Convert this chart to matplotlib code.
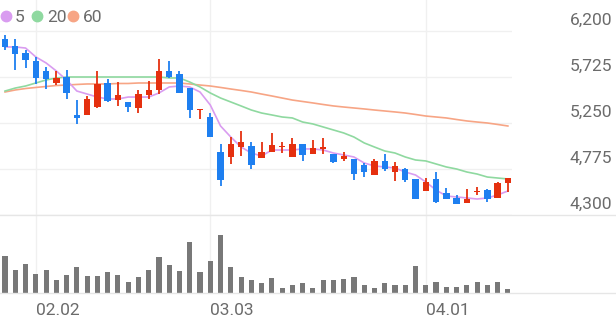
import matplotlib
matplotlib.use("Agg")
import matplotlib.pyplot as plt
from matplotlib.lines import Line2D

# daily candles, oldest first
opens = [6115, 6040, 5970, 5890, 5785, 5665, 5725, 5335, 5335, 5415,
         5665, 5490, 5465, 5405, 5540, 5590, 5785, 5755, 5610, 5385,
         5310, 4950, 4900, 5000, 5015, 4890, 4950, 5000, 4900, 5035,
         4930, 4985, 4930, 4880, 4880, 4815, 4715, 4860, 4745, 4775,
         4670, 4550, 4670, 4525, 4475, 4425, 4540, 4560, 4475, 4630]
highs = [6160, 6115, 6005, 5930, 5830, 5785, 5795, 5485, 5530, 5785,
         5705, 5675, 5465, 5590, 5685, 5910, 5890, 5785, 5610, 5395,
         5355, 5035, 5105, 5165, 5055, 5055, 5145, 5055, 5095, 5035,
         5075, 5095, 4930, 4950, 4880, 4835, 4880, 4930, 4845, 4785,
         4670, 4680, 4745, 4580, 4505, 4570, 4590, 4570, 4640, 4680]
lows = [6005, 5800, 5820, 5655, 5600, 5640, 5500, 5240, 5330, 5410,
        5465, 5425, 5365, 5355, 5500, 5550, 5715, 5560, 5300, 5290,
        5105, 4600, 4825, 4910, 4775, 4890, 4950, 4940, 4900, 4860,
        4930, 4930, 4835, 4860, 4660, 4690, 4710, 4755, 4650, 4640,
        4465, 4545, 4425, 4465, 4415, 4425, 4505, 4435, 4475, 4540]
closes = [6035, 5960, 5900, 5715, 5705, 5715, 5560, 5300, 5500, 5655,
          5475, 5540, 5415, 5550, 5590, 5785, 5725, 5560, 5385, 5395,
          5105, 4660, 5035, 5055, 4815, 4950, 5025, 5015, 5035, 4920,
          4990, 4995, 4845, 4905, 4725, 4745, 4860, 4775, 4805, 4660,
          4465, 4640, 4435, 4465, 4415, 4465, 4550, 4465, 4630, 4680]

# moving averages
ma5 = [6035, 6035, 6024, 5932, 5870, 5787, 5694, 5580, 5549, 5518,
       5498, 5498, 5518, 5518, 5518, 5560, 5622, 5632, 5622, 5570,
       5436, 5219, 5105, 5002, 4940, 4909, 4971, 4971, 4971, 4982,
       4982, 4971, 4940, 4920, 4899, 4837, 4806, 4796, 4785, 4744,
       4713, 4641, 4558, 4496, 4486, 4476, 4465, 4476, 4507, 4548]
ma20 = [5580, 5611, 5632, 5663, 5694, 5715, 5725, 5725, 5725, 5725,
        5725, 5725, 5725, 5725, 5725, 5725, 5715, 5715, 5673, 5622,
        5560, 5508, 5467, 5426, 5384, 5353, 5333, 5312, 5302, 5260,
        5240, 5209, 5178, 5147, 5105, 5044, 5002, 4961, 4940, 4899,
        4868, 4858, 4827, 4796, 4775, 4744, 4723, 4692, 4682, 4672]
ma60 = [5570, 5591, 5606, 5617, 5627, 5637, 5642, 5648, 5653, 5653,
        5653, 5658, 5658, 5663, 5663, 5663, 5663, 5663, 5653, 5642,
        5632, 5617, 5601, 5586, 5570, 5549, 5529, 5508, 5487, 5472,
        5457, 5441, 5426, 5415, 5405, 5395, 5384, 5374, 5364, 5353,
        5338, 5322, 5312, 5302, 5286, 5271, 5260, 5250, 5235, 5219]

# volume (thousand shares)
volume = [373, 233, 290, 193, 233, 126, 183, 256, 166, 166,
          210, 176, 110, 160, 233, 360, 283, 223, 506, 210,
          323, 576, 260, 160, 126, 100, 150, 50, 83, 100,
          50, 126, 133, 143, 160, 76, 50, 100, 76, 76,
          273, 76, 110, 56, 56, 76, 110, 76, 110, 40]

date_idx = [3, 20, 41]
date_labels = ["02.02", "03.03", "04.01"]
price_ticks = [4300, 4775, 5250, 5725, 6200]

UP = "#e5300f"
DOWN = "#1e7ff0"
GRID = "#f0f0f0"
TXT = "#6b6b6b"
ma_colors = ["#d99cf0", "#8fd9a0", "#f7a585"]

plt.rcParams["font.family"] = ["Roboto", "DejaVu Sans"]

W, H = 616, 321
fig = plt.figure(figsize=(W / 100, H / 100), dpi=100)


def px_axes(x0, y0, x1, y1):
    return fig.add_axes([x0 / W, 1 - y1 / H, (x1 - x0) / W, (y1 - y0) / H])


ax = px_axes(0, 0, 512, 215)
axv = px_axes(0, 215, 512, 293)

n = len(closes)
xs = list(range(n))
for a in (ax, axv):
    a.set_xlim(-0.49, 49.4)
    for s in a.spines.values():
        s.set_visible(False)
    a.set_xticks(date_idx)
    a.tick_params(length=0)
    a.grid(axis="x", color=GRID, lw=1)
    a.set_axisbelow(True)

# price panel
ax.set_ylim(4300, 6520)
ax.set_yticks(price_ticks)
ax.set_yticklabels([])
ax.set_xticklabels([])
ax.grid(axis="y", color=GRID, lw=1)

for ma, col in zip([ma60, ma20, ma5], ma_colors[::-1]):
    ax.plot(xs, ma, color=col, lw=1.2, zorder=2)

cols = [UP if c >= o else DOWN for o, c in zip(opens, closes)]
ax.vlines(xs, lows, highs, colors=cols, lw=1.3, zorder=3)
bottoms = [min(o, c) for o, c in zip(opens, closes)]
heights = [max(abs(c - o), 12) for o, c in zip(opens, closes)]
ax.bar(xs, heights, bottom=bottoms, width=0.62, color=cols, zorder=4)

for v in price_ticks:
    ax.annotate(f"{v:,}", xy=(612 / W, v), xycoords=("figure fraction", "data"),
                xytext=(0, 6), textcoords="offset pixels", ha="right",
                va="baseline", fontsize=12.5, color=TXT, annotation_clip=False)

# volume panel
axv.set_ylim(0, 780)
axv.set_yticks([])
axv.bar(xs, volume, width=0.5, color="#787878", zorder=3)
axv.set_xticklabels(date_labels, fontsize=12.5, color=TXT)
for lab in axv.get_xticklabels():
    lab.set_horizontalalignment("left")
axv.tick_params(axis="x", pad=7)

# separators across full width
for ypx in (215, 293):
    fig.add_artist(Line2D([0, 1], [1 - ypx / H] * 2, transform=fig.transFigure,
                          color="#e6e6e6", lw=1))

# legend
for (cx, tx, lab), col in zip([(6, 15, "5"), (37, 47, "20"), (73, 83, "60")], ma_colors):
    fig.add_artist(Line2D([cx / W], [1 - 16 / H], transform=fig.transFigure,
                          marker="o", markersize=7.5, color=col, lw=0))
    fig.text(tx / W, 1 - 22 / H, lab, fontsize=12.5, color=TXT, va="baseline")

fig.savefig("out.png", dpi=100)
